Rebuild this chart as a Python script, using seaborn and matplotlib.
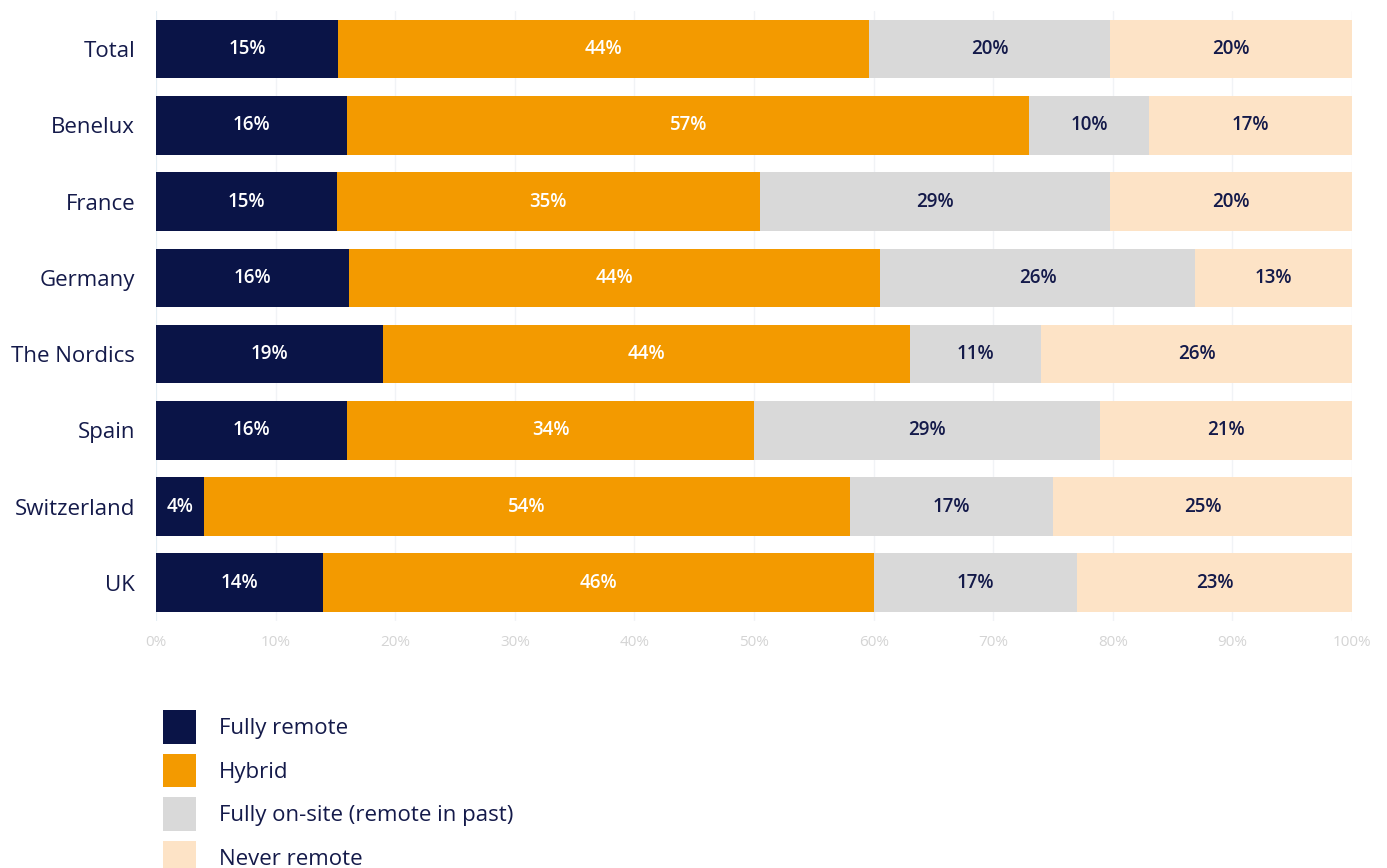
import matplotlib
matplotlib.use("Agg")
import matplotlib.pyplot as plt
from matplotlib.patches import Patch
import numpy as np
import seaborn as sns

# Work arrangement shares by region (percent of respondents)
regions = ["Total", "Benelux", "France", "Germany", "The Nordics",
           "Spain", "Switzerland", "UK"]
series_names = ["Fully remote", "Hybrid", "Fully on-site (remote in past)",
                "Never remote"]
fully_remote = [15.2, 16, 15.1, 16.1, 19, 16, 4, 14]
hybrid = [44.4, 57, 35.4, 44.4, 44, 34, 54, 46]
fully_onsite = [20.2, 10, 29.3, 26.4, 11, 28.9, 17, 17]
never_remote = [20.2, 17, 20.2, 13.1, 26, 21.1, 25, 23]
x_ticks = [0, 10, 20, 30, 40, 50, 60, 70, 80, 90, 100]

colors = ["#0a1447", "#f39a00", "#d9d9d9", "#fde3c6"]
label_colors = ["white", "white", "#141a4a", "#141a4a"]
navy_text = "#141a4a"

sns.set_theme(style="white")
plt.rcParams["font.family"] = ["Open Sans", "DejaVu Sans"]

fig = plt.figure(figsize=(13.87, 8.68), dpi=100)
ax = fig.add_axes([0.1125, 0.2846, 0.8623, 0.7027])

values = np.array([fully_remote, hybrid, fully_onsite, never_remote])
cum = np.cumsum(values, axis=0)

# Stacked bars: draw cumulative totals from the widest down so each
# segment shows on top of the one after it
for i in range(len(series_names) - 1, -1, -1):
    sns.barplot(x=cum[i], y=regions, orient="h", color=colors[i],
                width=0.77, saturation=1, linewidth=0, edgecolor="none",
                ax=ax, zorder=2)

# Segment labels centred in each piece
for i in range(len(series_names)):
    starts = cum[i] - values[i]
    for j, region in enumerate(regions):
        ax.text(starts[j] + values[i][j] / 2, j, f"{values[i][j]:.0f}%",
                ha="center", va="center", fontsize=13.5, fontweight="semibold",
                color=label_colors[i], zorder=3)

ax.set_xlim(0, 100)
ax.set_ylim(7.5, -0.5)
ax.set_xticks(x_ticks)
ax.set_xticklabels([f"{t}%" for t in x_ticks], fontsize=11, color="#d4d4d4")
ax.tick_params(axis="x", length=0, pad=10)
ax.tick_params(axis="y", length=0, pad=15, labelsize=16, labelcolor=navy_text)
for lbl in ax.get_yticklabels():
    lbl.set_fontweight("medium")
ax.set_xlabel("")
ax.set_ylabel("")
for s in ax.spines.values():
    s.set_visible(False)
ax.grid(axis="x", color="#f1f3f6", linewidth=1, zorder=0)
ax.set_axisbelow(True)
ax.axvline(0, color="#e2edf4", linewidth=1.2, zorder=1)

handles = [Patch(facecolor=c, edgecolor="none") for c in colors]
fig.legend(handles, series_names, loc="upper left",
           bbox_to_anchor=(0.1031, 0.205), frameon=False, fontsize=16,
           handlelength=1.5, handleheight=1.95, labelspacing=0.45,
           handletextpad=1.0, labelcolor=navy_text)

fig.savefig("out.png", dpi=100, facecolor="white")
